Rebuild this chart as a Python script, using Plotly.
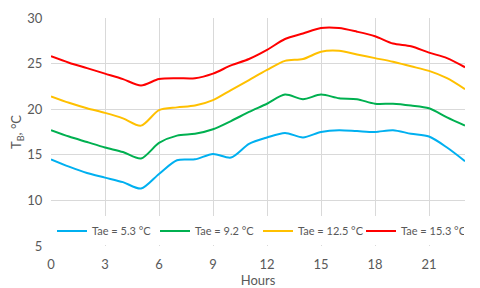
import plotly.graph_objects as go

hours = list(range(24))
names = ["Tae = 5.3 °C", "Tae = 9.2 °C", "Tae = 12.5 °C", "Tae = 15.3 °C"]
t_53 = [14.5, 13.7, 13.0, 12.5, 12.0, 11.3, 12.9, 14.4, 14.5, 15.1, 14.7, 16.2,
        16.9, 17.4, 16.9, 17.5, 17.7, 17.6, 17.5, 17.7, 17.3, 17.0, 15.8, 14.3]
t_92 = [17.7, 17.0, 16.4, 15.8, 15.3, 14.6, 16.3, 17.1, 17.3, 17.8, 18.7, 19.7,
        20.6, 21.6, 21.1, 21.6, 21.2, 21.1, 20.6, 20.6, 20.4, 20.1, 19.1, 18.2]
t_125 = [21.4, 20.7, 20.1, 19.6, 19.0, 18.2, 19.9, 20.2, 20.4, 21.0, 22.1, 23.2,
         24.3, 25.3, 25.5, 26.3, 26.4, 26.0, 25.6, 25.2, 24.7, 24.2, 23.4, 22.2]
t_153 = [25.8, 25.1, 24.5, 23.9, 23.3, 22.6, 23.3, 23.4, 23.4, 23.9, 24.8, 25.5,
         26.5, 27.7, 28.3, 28.9, 28.9, 28.5, 28.0, 27.2, 26.9, 26.2, 25.6, 24.6]
series = [t_53, t_92, t_125, t_153]
colors = ["#00B0F0", "#00B050", "#FFC000", "#FF0000"]
x_ticks = [0, 3, 6, 9, 12, 15, 18, 21]
y_ticks = [5, 10, 15, 20, 25, 30]

fig = go.Figure()
for name, vals, col in zip(names, series, colors):
    fig.add_trace(go.Scatter(x=hours, y=vals, name=name, mode="lines",
                             line=dict(color=col, width=2, shape="spline", smoothing=0.8)))

font = dict(family="Lato, Open Sans, sans-serif", size=13, color="#595959")
# page body has an 8px margin, so the figure is sized 8px smaller
fig.update_layout(
    width=472, height=280,
    margin=dict(l=43, r=15, t=10, b=42),
    paper_bgcolor="white", plot_bgcolor="white",
    font=font,
    showlegend=True,
    legend=dict(orientation="h", x=0.5, xanchor="center", y=0.066, yanchor="middle",
                bgcolor="white", font=dict(family="Lato, Open Sans, sans-serif", size=11, color="#595959"),
                itemwidth=30, tracegroupgap=0, entrywidthmode="pixels", entrywidth=58),
    xaxis=dict(range=[0, 23], tickvals=x_ticks, showgrid=True, gridcolor="#D9D9D9",
               gridwidth=1, zeroline=False, showline=False, automargin=False,
               ticks="outside", ticklen=6, tickcolor="rgba(0,0,0,0)",
               title=dict(text="Hours", standoff=4, font=font)),
    yaxis=dict(range=[5, 30], tickvals=y_ticks, showgrid=True, gridcolor="#D9D9D9",
               gridwidth=1, zeroline=False, showline=False, automargin=False,
               ticks="outside", ticklen=5, tickcolor="rgba(0,0,0,0)",
               title=dict(text="T<sub>B</sub>, °C", standoff=8, font=font)),
)
fig.write_html("out.html")
